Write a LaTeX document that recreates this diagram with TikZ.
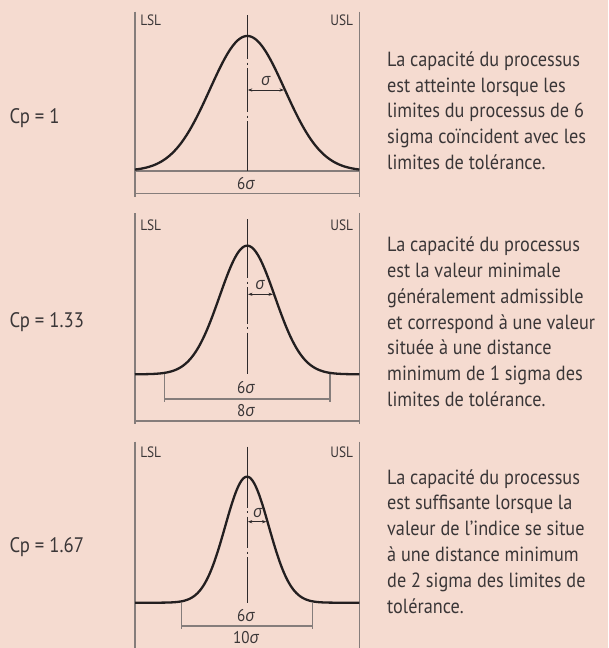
\documentclass[tikz,border=0pt]{standalone}
\usepackage{fontspec}
\setmainfont[FakeStretch=0.89]{PT Sans}
\newfontfamily\grkfont[FakeStretch=0.95]{Open Sans}
\usetikzlibrary{arrows.meta}
\definecolor{bg}{HTML}{F5DBD0}
\definecolor{limgray}{HTML}{857D7B}
\definecolor{curveblk}{HTML}{231F20}
\definecolor{axisc}{HTML}{2E2A2B}
\definecolor{txt}{HTML}{3A3637}
\newcommand\mysig{{\grkfont\itshape σ}}
\tikzset{
 lim/.style={draw=limgray, line width=1.3pt},
 dimln/.style={draw=limgray, line width=1.1pt},
 curve/.style={draw=curveblk, line width=2.3pt, line join=round},
 axisln/.style={draw=axisc, line width=0.9pt},
 sigarrow/.style={draw=axisc, line width=0.8pt, {Stealth[length=4.5pt,width=3.2pt]}-{Stealth[length=4.5pt,width=3.2pt]}},
 limlab/.style={font=\fontsize{15}{18}\selectfont, text=txt, inner sep=0},
 dimlab/.style={font=\fontsize{17}{20}\selectfont, text=txt, inner sep=0},
 cplab/.style={font=\fontsize{21}{25}\selectfont, text=txt, inner sep=0, anchor=base west},
 desc/.style={font=\fontsize{20.5}{25.8}\selectfont, text=txt, inner sep=0, anchor=base west, align=left},
}
\begin{document}
\begin{tikzpicture}[x=1pt,y=-1pt]
\fill[bg] (0,0) rectangle (608,648);
\useasboundingbox (0,0) rectangle (608,648);

% ---------- Panel 1 ----------
\coordinate (a1t) at (135,11.7); \coordinate (a1b) at (135,196.7);
\coordinate (b1t) at (359.3,11.7); \coordinate (b1b) at (359.3,196.7);
\draw[lim] (a1t) -- (a1b);
\draw[lim] (b1t) -- (b1b);
\coordinate (a1base) at (135,171); \coordinate (b1base) at (359.3,171);
\draw[dimln] (a1base) -- (b1base);
\coordinate (a1dim) at (135,193.3); \coordinate (b1dim) at (359.3,193.3);
\draw[dimln] (a1dim) -- (b1dim);
\draw[axisln] (247.3,15) -- (247.3,59) (247.3,62.5) -- (247.3,64.5) (247.3,68) -- (247.3,112) (247.3,115.5) -- (247.3,117.5) (247.3,121) -- (247.3,171);
\draw[curve] plot[domain=135:359.3,samples=160,smooth] (\x,{171-135*exp(-0.5*((\x-247.3)/37.3)^2)});
\coordinate (s1a) at (247.8,90); \coordinate (s1b) at (284,90);
\draw[sigarrow] (s1a) -- (s1b);
\node[dimlab] (sg1) at (265.7,81) {\mysig};
\node[dimlab] (d1) at (246,183.5) {6\mysig};
\node[limlab] (lsl1) at (150.7,20.7) {LSL};
\node[limlab] (usl1) at (341.7,20.7) {USL};
\node[cplab] (cp1) at (9.3,123) {Cp = 1};
\node[desc] (t1) at (387,169.5) {La capacité du processus\\est atteinte lorsque les\\limites du processus de 6\\sigma coïncident avec les\\limites de tolérance.};

% ---------- Panel 2 ----------
\coordinate (a2t) at (135,213.3); \coordinate (a2b) at (135,423.5);
\coordinate (b2t) at (359.3,213.3); \coordinate (b2b) at (359.3,423.5);
\draw[lim] (a2t) -- (a2b);
\draw[lim] (b2t) -- (b2b);
\coordinate (a2k) at (164.3,374.3); \coordinate (a2kb) at (164.3,401.5);
\coordinate (b2k) at (330,374.3); \coordinate (b2kb) at (330,401.5);
\draw[dimln] (a2k) -- (a2kb);
\draw[dimln] (b2k) -- (b2kb);
\coordinate (a2h) at (164.3,399); \coordinate (b2h) at (330,399);
\draw[dimln] (a2h) -- (b2h);
\coordinate (a2dim) at (135,421); \coordinate (b2dim) at (359.3,421);
\draw[dimln] (a2dim) -- (b2dim);
\draw[axisln] (247.2,219) -- (247.2,277.5) (247.2,281.5) -- (247.2,283.5) (247.2,287) -- (247.2,323.5) (247.2,327) -- (247.2,329) (247.2,332.5) -- (247.2,374.3);
\draw[curve] plot[domain=135:359.3,samples=160,smooth] (\x,{374.3-128.6*exp(-0.5*((\x-247.2)/27.6)^2)});
\coordinate (s2a) at (248,294.3); \coordinate (s2b) at (273,294.3);
\draw[sigarrow] (s2a) -- (s2b);
\node[dimlab] (sg2) at (260,285.5) {\mysig};
\node[dimlab] (d2a) at (246,387.5) {6\mysig};
\node[dimlab] (d2b) at (246,411) {8\mysig};
\node[limlab] (lsl2) at (150.7,225) {LSL};
\node[limlab] (usl2) at (341.7,225) {USL};
\node[cplab] (cp2) at (9.3,327.7) {Cp = 1.33};
\node[desc] (t2) at (387,406.5) {La capacité du processus\\est la valeur minimale\\généralement admissible\\et correspond à une valeur\\située à une distance\\minimum de 1 sigma des\\limites de tolérance.};

% ---------- Panel 3 ----------
\coordinate (a3t) at (135,441.7); \coordinate (a3b) at (135,648);
\coordinate (b3t) at (359.3,441.7); \coordinate (b3b) at (359.3,648);
\draw[lim] (a3t) -- (a3b);
\draw[lim] (b3t) -- (b3b);
\coordinate (a3k) at (181.7,602.7); \coordinate (a3kb) at (181.7,628.5);
\coordinate (b3k) at (312.3,602.7); \coordinate (b3kb) at (312.3,628.5);
\draw[dimln] (a3k) -- (a3kb);
\draw[dimln] (b3k) -- (b3kb);
\coordinate (a3h) at (181.7,626); \coordinate (b3h) at (312.3,626);
\draw[dimln] (a3h) -- (b3h);
\draw[axisln] (247,446.7) -- (247,507.5) (247,511) -- (247,513) (247,516.5) -- (247,548) (247,551.5) -- (247,553.5) (247,557) -- (247,602.7);
\draw[curve] plot[domain=135:359.3,samples=200,smooth] (\x,{602.7-126*exp(-0.5*((\x-247)/21.8)^2)});
\coordinate (s3a) at (247.8,521.7); \coordinate (s3b) at (266.5,521.7);
\draw[sigarrow] (s3a) -- (s3b);
\node[dimlab] (sg3) at (257.7,513) {\mysig};
\node[dimlab] (d3a) at (246,615.5) {6\mysig};
\node[dimlab] (d3b) at (246,638) {10\mysig};
\node[limlab] (lsl3) at (150.7,452.3) {LSL};
\node[limlab] (usl3) at (341.7,452.3) {USL};
\node[cplab] (cp3) at (9.3,552) {Cp = 1.67};
\node[desc] (t3) at (387,613) {La capacité du processus\\est suffisante lorsque la\\valeur de l’indice se situe\\à une distance minimum\\de 2 sigma des limites de\\tolérance.};
\end{tikzpicture}
\end{document}
